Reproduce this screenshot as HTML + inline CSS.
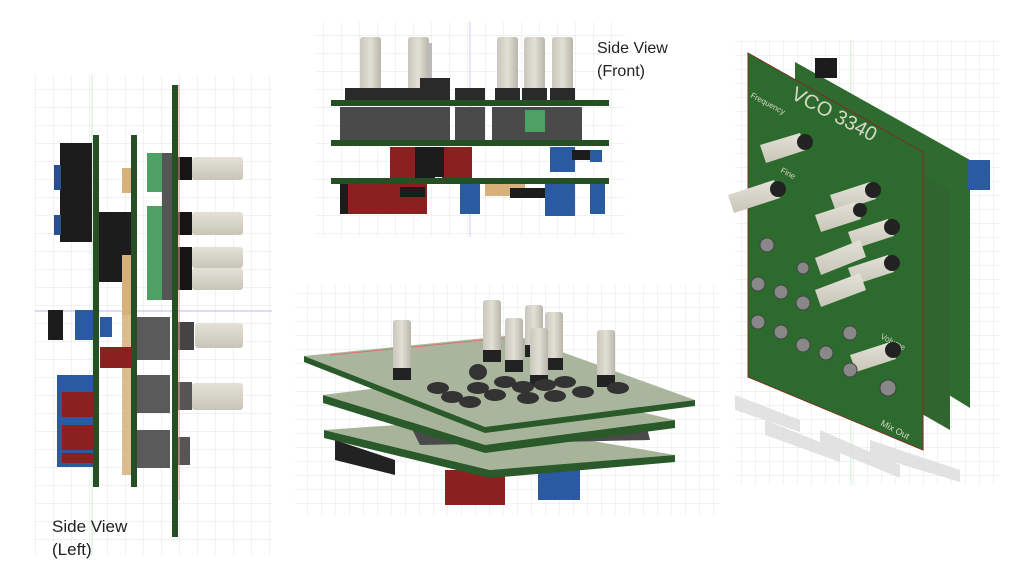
<!DOCTYPE html>
<html><head><meta charset="utf-8"><style>
html,body{margin:0;padding:0;background:#fff;width:1024px;height:568px;overflow:hidden}
svg{display:block}
text{font-family:"Liberation Sans",sans-serif}
</style></head><body>
<svg width="1024" height="568" viewBox="0 0 1024 568" xmlns="http://www.w3.org/2000/svg">
<defs>
<pattern id="g" width="18" height="18" patternUnits="userSpaceOnUse"><path d="M18 0V18H0" fill="none" stroke="#e4e4e4" stroke-width="1"/></pattern>
<pattern id="g2" width="14" height="14" patternUnits="userSpaceOnUse"><path d="M14 0V14H0" fill="none" stroke="#e6e6e6" stroke-width="1"/></pattern>
<linearGradient id="kn" x1="0" x2="0" y1="0" y2="1"><stop offset="0" stop-color="#e4e2d8"/><stop offset="1" stop-color="#c8c5b8"/></linearGradient>
<linearGradient id="kv" x1="0" x2="1" y1="0" y2="0"><stop offset="0" stop-color="#c9c7bb"/><stop offset="0.5" stop-color="#e2e0d6"/><stop offset="1" stop-color="#b8b6aa"/></linearGradient>
</defs>
<!-- grids -->
<rect x="35" y="75" width="237" height="480" fill="url(#g)"/>
<rect x="315" y="22" width="310" height="215" fill="url(#g)"/>
<rect x="295" y="285" width="425" height="230" fill="url(#g2)"/>
<rect x="735" y="40" width="265" height="445" fill="url(#g2)"/>
<line x1="92" y1="75" x2="92" y2="555" stroke="#c8f0c8"/>
<line x1="35" y1="311" x2="272" y2="311" stroke="#b8b8f0"/>
<line x1="470" y1="22" x2="470" y2="237" stroke="#c8c8f4"/>
<line x1="851" y1="40" x2="851" y2="485" stroke="#c8f0c8"/>

<!-- LEFT SIDE VIEW -->
<rect x="60" y="143" width="32" height="99" fill="#1c1c1c"/>
<rect x="54" y="165" width="7" height="25" fill="#2a4f8f"/>
<rect x="54" y="215" width="7" height="20" fill="#2a4f8f"/>
<rect x="98" y="212" width="34" height="70" fill="#1c1c1c"/>
<rect x="147" y="153" width="25" height="39" fill="#4fa063"/>
<rect x="147" y="206" width="25" height="34" fill="#4fa063"/>
<rect x="147" y="240" width="25" height="39" fill="#4fa063"/>
<rect x="147" y="279" width="25" height="21" fill="#4fa063"/>
<rect x="162" y="153" width="10" height="147" fill="#555"/>
<rect x="122" y="168" width="10" height="25" fill="#d8b07a"/>
<rect x="122" y="255" width="10" height="60" fill="#d8b07a"/>
<rect x="122" y="315" width="10" height="160" fill="#d8b07a" opacity=".85"/>
<g fill="url(#kn)">
<rect x="192" y="157" width="51" height="23" rx="3"/>
<rect x="192" y="212" width="51" height="23" rx="3"/>
<rect x="192" y="247" width="51" height="21" rx="3"/>
<rect x="192" y="268" width="51" height="22" rx="3"/>
<rect x="195" y="323" width="48" height="25" rx="3"/>
<rect x="192" y="383" width="51" height="27" rx="3"/>
</g>
<g fill="#151515">
<rect x="178" y="157" width="14" height="23"/><rect x="178" y="212" width="14" height="23"/><rect x="178" y="247" width="14" height="43"/>
<rect x="178" y="322" width="16" height="28" fill="#444"/><rect x="178" y="382" width="14" height="28" fill="#555"/><rect x="178" y="437" width="12" height="28" fill="#555"/>
</g>
<g fill="#5a5a5a">
<rect x="137" y="317" width="33" height="43"/><rect x="137" y="375" width="33" height="38"/><rect x="137" y="430" width="33" height="38"/>
</g>
<rect x="48" y="310" width="15" height="30" fill="#1c1c1c"/>
<rect x="75" y="310" width="18" height="30" fill="#2a5aa0"/>
<rect x="100" y="317" width="12" height="20" fill="#2a5aa0"/>
<rect x="100" y="347" width="33" height="21" fill="#8b2020"/>
<rect x="57" y="375" width="36" height="92" fill="#2a5aa0"/>
<rect x="62" y="392" width="31" height="25" fill="#8b2020"/>
<rect x="62" y="425" width="31" height="25" fill="#8b2020"/>
<rect x="62" y="453" width="31" height="10" fill="#8b2020"/>
<rect x="93" y="135" width="6" height="352" fill="#264f26"/>
<rect x="131" y="135" width="6" height="352" fill="#264f26"/>
<rect x="172" y="85" width="6" height="452" fill="#264f26"/>
<line x1="179" y1="85" x2="179" y2="500" stroke="#f4a0a0"/>
<text x="52" y="532" font-size="17" fill="#222" font-family="Liberation Sans, sans-serif">Side View</text>
<text x="52" y="555" font-size="17" fill="#222">(Left)</text>

<!-- TOP FRONT VIEW -->
<g fill="url(#kv)">
<rect x="360" y="37" width="21" height="53" rx="3"/>
<rect x="408" y="37" width="21" height="53" rx="3"/>
<rect x="497" y="37" width="21" height="53" rx="3"/>
<rect x="524" y="37" width="21" height="53" rx="3"/>
<rect x="552" y="37" width="21" height="53" rx="3"/>
</g>
<rect x="428" y="43" width="4" height="40" fill="#bbb"/>
<g fill="#2a2a2a">
<rect x="345" y="88" width="55" height="14"/><rect x="383" y="88" width="40" height="14"/><rect x="420" y="78" width="30" height="24"/>
<rect x="455" y="88" width="30" height="14"/><rect x="495" y="88" width="25" height="14"/><rect x="522" y="88" width="25" height="14"/><rect x="550" y="88" width="25" height="14"/>
</g>
<g fill="#4a4a4a">
<rect x="340" y="107" width="110" height="33"/><rect x="455" y="107" width="30" height="33"/><rect x="492" y="107" width="90" height="33"/>
</g>
<rect x="525" y="110" width="20" height="22" fill="#4fa063"/>
<rect x="390" y="147" width="25" height="32" fill="#8b2020"/>
<rect x="415" y="147" width="20" height="32" fill="#1c1c1c"/>
<rect x="442" y="147" width="30" height="32" fill="#8b2020"/>
<rect x="432" y="147" width="12" height="30" fill="#1c1c1c"/>
<rect x="550" y="147" width="25" height="25" fill="#2a5aa0"/>
<rect x="572" y="150" width="25" height="10" fill="#1c1c1c"/>
<rect x="590" y="150" width="12" height="12" fill="#2a5aa0"/>
<rect x="343" y="184" width="30" height="30" fill="#8b2020"/>
<rect x="340" y="184" width="8" height="30" fill="#1c1c1c"/>
<rect x="373" y="184" width="18" height="28" fill="#2a5aa0"/>
<rect x="372" y="184" width="30" height="30" fill="#8b2020"/>
<rect x="402" y="184" width="25" height="30" fill="#8b2020"/>
<rect x="400" y="187" width="25" height="10" fill="#1c1c1c"/>
<rect x="460" y="184" width="20" height="30" fill="#2a5aa0"/>
<rect x="485" y="184" width="40" height="12" fill="#d8b07a"/>
<rect x="510" y="188" width="35" height="10" fill="#1c1c1c"/>
<rect x="545" y="184" width="30" height="32" fill="#2a5aa0"/>
<rect x="590" y="184" width="15" height="30" fill="#2a5aa0"/>
<rect x="331" y="100" width="278" height="6" fill="#264f26"/>
<rect x="331" y="140" width="278" height="6" fill="#264f26"/>
<rect x="331" y="178" width="278" height="6" fill="#264f26"/>
<text x="597" y="53" font-size="16" fill="#222">Side View</text>
<text x="597" y="76" font-size="16" fill="#222">(Front)</text>

<!-- BOTTOM ISO VIEW -->
<polygon points="445,470 505,470 505,505 445,505" fill="#8b2020"/>
<polygon points="538,470 580,470 580,500 538,500" fill="#2a5aa0"/>
<polygon points="335,440 395,460 395,475 335,460" fill="#222"/>
<polygon points="324,430 490,470 490,478 324,438" fill="#2a5a2a"/>
<polygon points="324,430 470,420 675,455 490,470" fill="#a8b49a"/>
<polygon points="490,470 675,455 675,462 490,478" fill="#2a5a2a"/>
<polygon points="400,405 640,400 650,440 420,445" fill="#4a4a4a"/>
<polygon points="323,395 480,375 675,420 485,445" fill="#a8b49a"/>
<polygon points="323,395 485,445 485,453 323,403" fill="#2a5a2a"/>
<polygon points="485,445 675,420 675,428 485,453" fill="#2a5a2a"/>
<polygon points="304,356 515,335 695,400 485,427" fill="#a9b59c"/>
<polygon points="304,356 485,427 485,433 304,362" fill="#2a5a2a"/>
<polygon points="485,427 695,400 695,406 485,433" fill="#2a5a2a"/>
<line x1="330" y1="355" x2="515" y2="337" stroke="#e07070" stroke-width="1"/>
<g>
<rect x="393" y="320" width="18" height="50" rx="3" fill="url(#kv)"/><rect x="393" y="368" width="18" height="12" fill="#222"/>
<rect x="483" y="300" width="18" height="55" rx="3" fill="url(#kv)"/><rect x="483" y="350" width="18" height="12" fill="#222"/>
<rect x="505" y="318" width="18" height="50" rx="3" fill="url(#kv)"/><rect x="505" y="360" width="18" height="12" fill="#222"/>
<rect x="525" y="305" width="18" height="45" rx="3" fill="url(#kv)"/><rect x="525" y="345" width="18" height="12" fill="#222"/>
<rect x="545" y="312" width="18" height="50" rx="3" fill="url(#kv)"/><rect x="545" y="358" width="18" height="12" fill="#222"/>
<rect x="530" y="328" width="18" height="52" rx="3" fill="url(#kv)"/><rect x="530" y="375" width="18" height="12" fill="#222"/>
<rect x="597" y="330" width="18" height="50" rx="3" fill="url(#kv)"/><rect x="597" y="375" width="18" height="12" fill="#222"/>
</g>
<g fill="#333">
<ellipse cx="438" cy="388" rx="11" ry="6"/><ellipse cx="452" cy="397" rx="11" ry="6"/><ellipse cx="470" cy="402" rx="11" ry="6"/>
<ellipse cx="478" cy="388" rx="11" ry="6"/><ellipse cx="495" cy="395" rx="11" ry="6"/><ellipse cx="505" cy="382" rx="11" ry="6"/>
<ellipse cx="523" cy="387" rx="11" ry="6"/><ellipse cx="528" cy="398" rx="11" ry="6"/><ellipse cx="545" cy="385" rx="11" ry="6"/>
<ellipse cx="555" cy="396" rx="11" ry="6"/><ellipse cx="565" cy="382" rx="11" ry="6"/><ellipse cx="583" cy="392" rx="11" ry="6"/>
<ellipse cx="618" cy="388" rx="11" ry="6"/><ellipse cx="478" cy="372" rx="9" ry="8"/>
</g>

<!-- RIGHT ISO VIEW -->
<g fill="#dcdcdc" opacity=".8">
<polygon points="735,395 800,420 800,432 735,410"/><polygon points="765,420 840,450 840,462 765,435"/>
<polygon points="820,430 900,465 900,478 820,445"/><polygon points="870,440 960,470 960,482 870,455"/>
</g>
<polygon points="795,62 970,160 970,408 795,300" fill="#2f6a2f"/>
<polygon points="775,95 950,190 950,430 775,330" fill="#306530"/>
<rect x="815" y="58" width="22" height="20" fill="#1c1c1c"/>
<rect x="968" y="160" width="22" height="30" fill="#2a5aa0"/>
<polygon points="748,53 923,152 923,450 748,377" fill="#2d6a2d" stroke="#7a3020" stroke-width="1"/>
<text x="790" y="98" font-size="20" fill="#d8d8c8" font-family="Liberation Mono, monospace" transform="rotate(28 790 98)">VCO 3340</text>
<text x="750" y="97" font-size="8" fill="#d8d8c8" transform="rotate(28 750 97)">Frequency</text>
<text x="780" y="172" font-size="8" fill="#d8d8c8" transform="rotate(28 780 172)">Fine</text>
<text x="880" y="338" font-size="8" fill="#d8d8c8" transform="rotate(28 880 338)">Volume</text>
<text x="880" y="425" font-size="9" fill="#d8d8c8" transform="rotate(28 880 425)">Mix Out</text>
<g fill="url(#kn)">
<polygon points="760,145 800,133 806,150 766,163"/>
<polygon points="728,195 774,180 780,198 734,213"/>
<polygon points="830,195 870,182 876,199 836,212"/>
<polygon points="815,215 855,202 861,219 821,232"/>
<polygon points="848,232 888,219 894,236 854,249"/>
<polygon points="815,258 860,240 866,257 821,275"/>
<polygon points="848,268 888,255 894,272 854,285"/>
<polygon points="815,290 860,273 866,290 821,307"/>
<polygon points="850,355 890,342 896,359 856,372"/>
</g>
<g fill="#222">
<circle cx="805" cy="142" r="8"/><circle cx="778" cy="189" r="8"/><circle cx="873" cy="190" r="8"/>
<circle cx="860" cy="210" r="7"/><circle cx="892" cy="227" r="8"/><circle cx="892" cy="263" r="8"/><circle cx="893" cy="350" r="8"/>
</g>
<g fill="#888" stroke="#444" stroke-width="1">
<circle cx="767" cy="245" r="7"/><circle cx="758" cy="284" r="7"/><circle cx="781" cy="292" r="7"/><circle cx="803" cy="303" r="7"/>
<circle cx="758" cy="322" r="7"/><circle cx="781" cy="332" r="7"/><circle cx="803" cy="345" r="7"/><circle cx="826" cy="353" r="7"/>
<circle cx="850" cy="333" r="7"/><circle cx="850" cy="370" r="7"/><circle cx="888" cy="388" r="8"/><circle cx="803" cy="268" r="6"/>
</g>
</svg>
</body></html>
